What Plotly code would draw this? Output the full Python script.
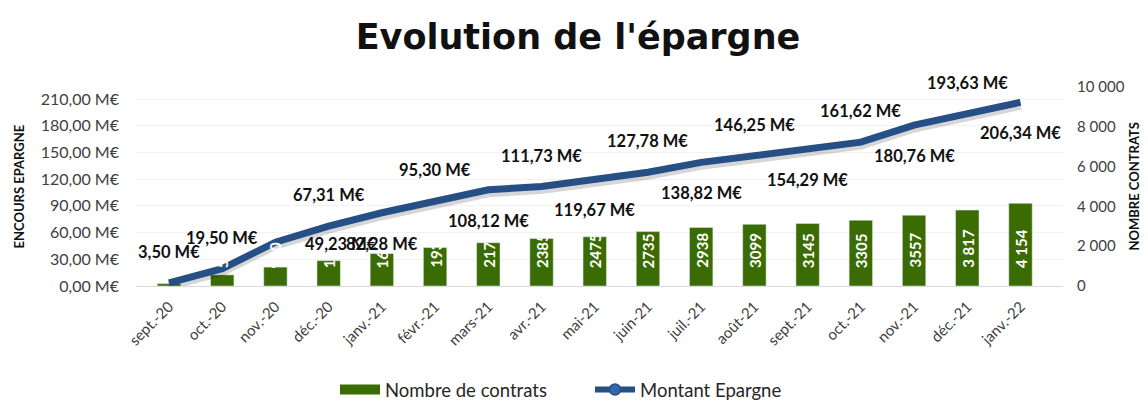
import plotly.graph_objects as go

# ---------------- data ----------------
mois = ["sept.-20", "oct.-20", "nov.-20", "déc.-20", "janv.-21", "févr.-21",
        "mars-21", "avr.-21", "mai-21", "juin-21", "juil.-21", "août-21",
        "sept.-21", "oct.-21", "nov.-21", "déc.-21", "janv.-22"]
nombre_contrats = [120, 560, 950, 1275, 1630, 1935, 2175, 2385, 2475, 2735,
                   2938, 3099, 3145, 3305, 3557, 3817, 4154]
contrats_labels = ["120", "560", "950", "1275", "1630", "1935", "2175", "2385",
                   "2475", "2735", "2938", "3099", "3145", "3305", "3557",
                   "3 817", "4 154"]
montant_epargne = [3.50, 19.50, 49.23, 67.31, 82.28, 95.30, 108.12, 111.73,
                   119.67, 127.78, 138.82, 146.25, 154.29, 161.62, 180.76,
                   193.63, 206.34]

# label placement (style, not data)
label_pos = ["above", "above", "right", "above", "below", "above", "below",
             "above", "below", "above", "below", "above", "below", "above",
             "below", "above", "below"]
OFFSETS = {"above": (0, 31), "below": (0, -31), "right": (66, -2)}

GREEN = "#3B6C04"
BLUE = "#254F85"
FONT = "Lato"
GREY = "#404040"

# the page adds an 8px body margin: figure is sized/positioned to compensate
W, H = 1140, 399
PL, PR, PT, PB = 128, 85, 79, 121
PW, PH = W - PL - PR, H - PT - PB
YMAX = 223.5
SHADOW_PX = 3
shadow_shift = SHADOW_PX * YMAX / PH


def fmt_meur(v):
    return f"{v:.2f}".replace(".", ",") + " M€"


fig = go.Figure()

# bars (right axis, drawn first)
fig.add_trace(go.Bar(
    x=mois, y=nombre_contrats, name="Nombre de contrats",
    marker=dict(color=GREEN), yaxis="y", showlegend=False,
))
# soft shadow of the line (same data, axis range shifted a few px)
fig.add_trace(go.Scatter(
    x=mois, y=montant_epargne, yaxis="y2", mode="lines", hoverinfo="skip",
    line=dict(color="rgba(0,0,0,0.16)", width=9), showlegend=False,
))
# line (left axis)
fig.add_trace(go.Scatter(
    x=mois, y=montant_epargne, name="Montant Epargne", yaxis="y3",
    mode="lines", line=dict(color=BLUE, width=7), showlegend=False,
))
# legend entries
fig.add_trace(go.Scatter(
    x=[None], y=[None], mode="lines", name="Nombre de contrats",
    line=dict(color=GREEN, width=13), yaxis="y",
))
fig.add_trace(go.Scatter(
    x=[None], y=[None], mode="lines+markers", name="Montant Epargne",
    line=dict(color=BLUE, width=6), yaxis="y3",
    marker=dict(size=11, color="#3565AA", line=dict(color=BLUE, width=1.5)),
))

annotations = []
# bar value labels (white, rotated, anchored near the base)
for m, v, t in zip(mois, nombre_contrats, contrats_labels):
    annotations.append(dict(
        x=m, y=0, xref="x", yref="y", text=f"<b>{t}</b>", showarrow=False,
        textangle=-90, yanchor="bottom", xanchor="center", yshift=16,
        font=dict(family=FONT, size=15, color="white"),
    ))
# line value labels
for m, v, p in zip(mois, montant_epargne, label_pos):
    dx, dy = OFFSETS[p]
    annotations.append(dict(
        x=m, y=v, xref="x", yref="y3", text=f"<b>{fmt_meur(v)}</b>",
        showarrow=False, xshift=dx, yshift=dy, xanchor="center", yanchor="middle",
        font=dict(family=FONT, size=16.5, color="#111111"),
    ))
# axis titles
annotations.append(dict(
    text="<b>ENCOURS EPARGNE</b>", xref="paper", yref="paper",
    x=(10 - PL) / PW, y=0.5, showarrow=False, textangle=-90,
    xanchor="center", yanchor="middle",
    font=dict(family=FONT, size=13, color="#111111"),
))
annotations.append(dict(
    text="<b>NOMBRE CONTRATS</b>", xref="paper", yref="paper",
    x=(1125 - PL) / PW, y=0.5, showarrow=False, textangle=-90,
    xanchor="center", yanchor="middle",
    font=dict(family=FONT, size=13, color="#111111"),
))

fig.update_layout(
    width=W, height=H,
    margin=dict(l=PL, r=PR, t=PT, b=PB),
    paper_bgcolor="white", plot_bgcolor="white",
    separators=", ",
    bargap=0.56,
    title=dict(
        text="<b>Evolution de l'épargne</b>",
        x=570 / W, xanchor="center", xref="container",
        y=1 - 29 / H, yanchor="middle", yref="container",
        font=dict(family="DejaVu Sans", size=35, color="#111111"),
    ),
    xaxis=dict(
        type="category", tickangle=-45, showgrid=False,
        showline=True, linecolor="#D9D9D9", linewidth=1,
        ticks="", ticklabelstandoff=5, automargin=False,
        tickfont=dict(family=FONT, size=15, color=GREY),
    ),
    yaxis=dict(
        side="right", range=[0, 10000], dtick=2000, tickformat=",d",
        showgrid=False, zeroline=False, ticks="", ticklabelstandoff=13,
        automargin=False,
        tickfont=dict(family=FONT, size=15, color=GREY),
    ),
    yaxis2=dict(
        overlaying="y", visible=False,
        range=[shadow_shift, YMAX + shadow_shift],
    ),
    yaxis3=dict(
        side="left", overlaying="y", range=[0, YMAX], dtick=30,
        tickformat=".2f", ticksuffix=" M€",
        showgrid=True, gridcolor="#F2F2F2", gridwidth=1,
        zeroline=False, ticks="", ticklabelstandoff=16, automargin=False,
        tickfont=dict(family=FONT, size=16, color=GREY),
    ),
    legend=dict(
        orientation="h", xref="container", yref="container",
        x=582 / W, xanchor="center", y=1 - 382 / H, yanchor="middle",
        font=dict(family=FONT, size=18.5, color="#262626"),
        itemwidth=40, traceorder="normal",
        entrywidth=200, entrywidthmode="pixels",
    ),
    annotations=annotations,
)

fig.write_html("out.html")
